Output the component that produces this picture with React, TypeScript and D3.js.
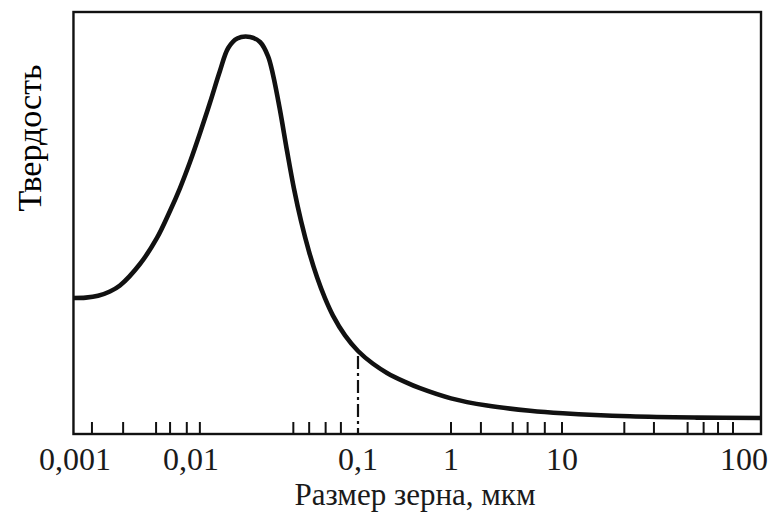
import React from "react";
import * as d3 from "d3";

// Decade labels on the (schematic, non-uniform) logarithmic grain-size axis
const xLabelValues = [0.001, 0.01, 0.1, 1, 10, 100];
const xLabelTexts = ["0,001", "0,01", "0,1", "1", "10", "100"];
// Minor tick marks drawn on the axis
const minorTicks = [
  0.0014, 0.0026, 0.005, 0.0066, 0.0092, 0.0113, 0.041, 0.051, 0.064, 0.079,
  1, 1.86, 3.6, 4.9, 7, 10, 22, 32, 49, 60, 72, 87,
];
// Curve: grain size (µm) vs hardness (relative units 0..100)
const grainSize = [
  0.00097, 0.00124, 0.00158, 0.002, 0.00244, 0.00363, 0.00509, 0.00659, 0.00804,
  0.0098, 0.0113, 0.013, 0.0149, 0.0167, 0.0189, 0.0226, 0.0259, 0.0289, 0.031,
  0.0341, 0.0376, 0.0414, 0.0456, 0.0509, 0.0568, 0.0635, 0.0708, 0.0836, 0.1,
  0.145, 0.205, 0.32, 0.464, 1, 2.11, 5.15, 10.1, 23.6, 55, 124,
];
const hardness = [
  32.23, 32.32, 32.75, 33.77, 35.19, 40.28, 46.45, 52.84, 58.29, 64.45, 71.21,
  78.55, 86.02, 91.47, 93.72, 94.08, 92.89, 89.57, 85.07, 76.78, 67.06, 58.06,
  50.47, 43.22, 37.2, 32.13, 28.06, 23.36, 19.67, 16.64, 14.48, 12.35, 10.85,
  8.44, 6.73, 5.5, 4.91, 4.19, 3.89, 3.79,
];
const markerValue = 0.1;
const xMin = 0.00097;
const xMax = 124;
const yLabel = "Твердость";
const xTitle = "Размер зерна, мкм";

const W = 769;
const H = 518;
const FONT = "'Liberation Serif', 'DejaVu Serif', serif";

export default function App() {
  const top = 12;
  const bottom = 434;
  const x = d3
    .scaleLog()
    .domain(xLabelValues)
    .range([75, 191, 358, 451, 562, 744]);
  const y = d3.scaleLinear().domain([0, 100]).range([bottom, top]);

  const left = x(xMin);
  const right = x(xMax);

  const pts: [number, number][] = grainSize.map((g, i) => [x(g), y(hardness[i])]);
  const line = d3.line().curve(d3.curveCatmullRom.alpha(0.5))(pts) || "";

  const mi = grainSize.indexOf(markerValue);
  const markerY = y(hardness[mi]);

  return (
    <svg
      width={W}
      height={H}
      style={{ position: "absolute", left: 0, top: 0, background: "#fff" }}
    >
      <rect x={0} y={0} width={W} height={H} fill="#fff" />
      {/* frame */}
      <rect
        x={left}
        y={top}
        width={right - left}
        height={bottom - top}
        fill="none"
        stroke="#111"
        strokeWidth={2.4}
      />
      {/* ticks */}
      {minorTicks.map((t, i) => (
        <line
          key={i}
          x1={x(t)}
          x2={x(t)}
          y1={bottom}
          y2={bottom - 12}
          stroke="#111"
          strokeWidth={2}
        />
      ))}
      {/* dash-dot marker line */}
      <line
        x1={x(markerValue)}
        x2={x(markerValue)}
        y1={markerY + 5}
        y2={bottom}
        stroke="#111"
        strokeWidth={2.2}
        strokeDasharray="13 4 3 4"
      />
      {/* curve */}
      <path d={line} fill="none" stroke="#111" strokeWidth={4.6} strokeLinejoin="round" />
      {/* tick labels */}
      {xLabelValues.map((v, i) => (
        <text
          key={i}
          x={x(v)}
          y={470}
          textAnchor="middle"
          fontFamily={FONT}
          fontSize={32}
          fill="#1a1a1a"
        >
          {xLabelTexts[i]}
        </text>
      ))}
      <text
        x={415}
        y={505}
        textAnchor="middle"
        fontFamily={FONT}
        fontSize={31}
        fill="#1a1a1a"
      >
        {xTitle}
      </text>
      <text
        transform={`translate(41,138) rotate(-90)`}
        textAnchor="middle"
        fontFamily={FONT}
        fontSize={34}
        fill="#000"
      >
        {yLabel}
      </text>
    </svg>
  );
}
